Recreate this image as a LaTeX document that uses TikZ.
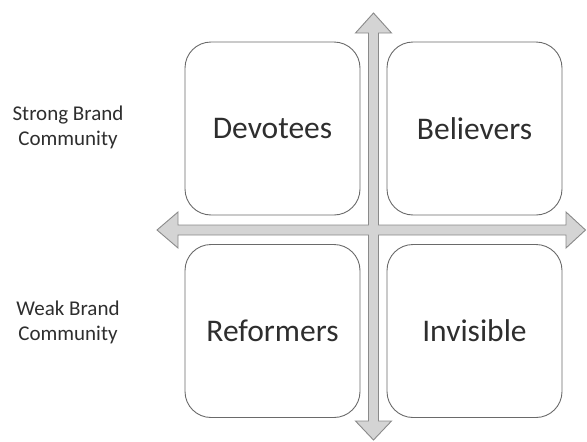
\documentclass[tikz,border=0pt]{standalone}
\usepackage{fontspec}
\setmainfont{Carlito}
\definecolor{axisfill}{HTML}{D4D4D4}
\definecolor{axisline}{HTML}{8A8A8A}
\definecolor{boxline}{HTML}{6A6A6A}
\definecolor{inktext}{HTML}{2E2E2E}
\tikzset{
  quadbox/.style={draw=boxline,line width=0.9pt,fill=white,rounded corners=26pt,
    minimum width=175pt,minimum height=173pt,text=inktext,
    font=\fontsize{31.5}{36}\selectfont},
  sidelabel/.style={align=center,text=inktext,font=\fontsize{21}{25}\selectfont}
}
\begin{document}
\begin{tikzpicture}[x=1pt,y=-1pt,line join=miter]
\useasboundingbox (0,0) rectangle (587,442);

% ---- the two axes as one cross-shaped arrow ----
\coordinate (centre) at (373.5,230);
\begin{scope}[shift={(centre)}]
  \draw[fill=axisfill,draw=axisline,line width=0.9pt]
    (0,-217) -- (18,-197) -- (5,-197) -- (5,-5) -- (192.5,-5) -- (192.5,-18)
    -- (212,0) -- (192.5,18) -- (192.5,5) -- (5,5) -- (5,191) -- (18,191)
    -- (0,210) -- (-18,191) -- (-5,191) -- (-5,5) -- (-195.5,5) -- (-195.5,18)
    -- (-216.5,0) -- (-195.5,-18) -- (-195.5,-5) -- (-5,-5) -- (-5,-197)
    -- (-18,-197) -- cycle;
\end{scope}

% ---- four quadrants ----
\node[quadbox] (devotees)  at (272.5,128.5) {Devotees};
\node[quadbox] (believers) at (474.5,128.5) {Believers};
\node[quadbox] (reformers) at (272.5,331)   {Reformers};
\node[quadbox] (invisible) at (474.5,331)   {Invisible};

% ---- row labels ----
\node[sidelabel] (strong) at (68,127) {Strong Brand\\Community};
\node[sidelabel] (weak)   at (68,322) {Weak Brand\\Community};
\end{tikzpicture}
\end{document}
